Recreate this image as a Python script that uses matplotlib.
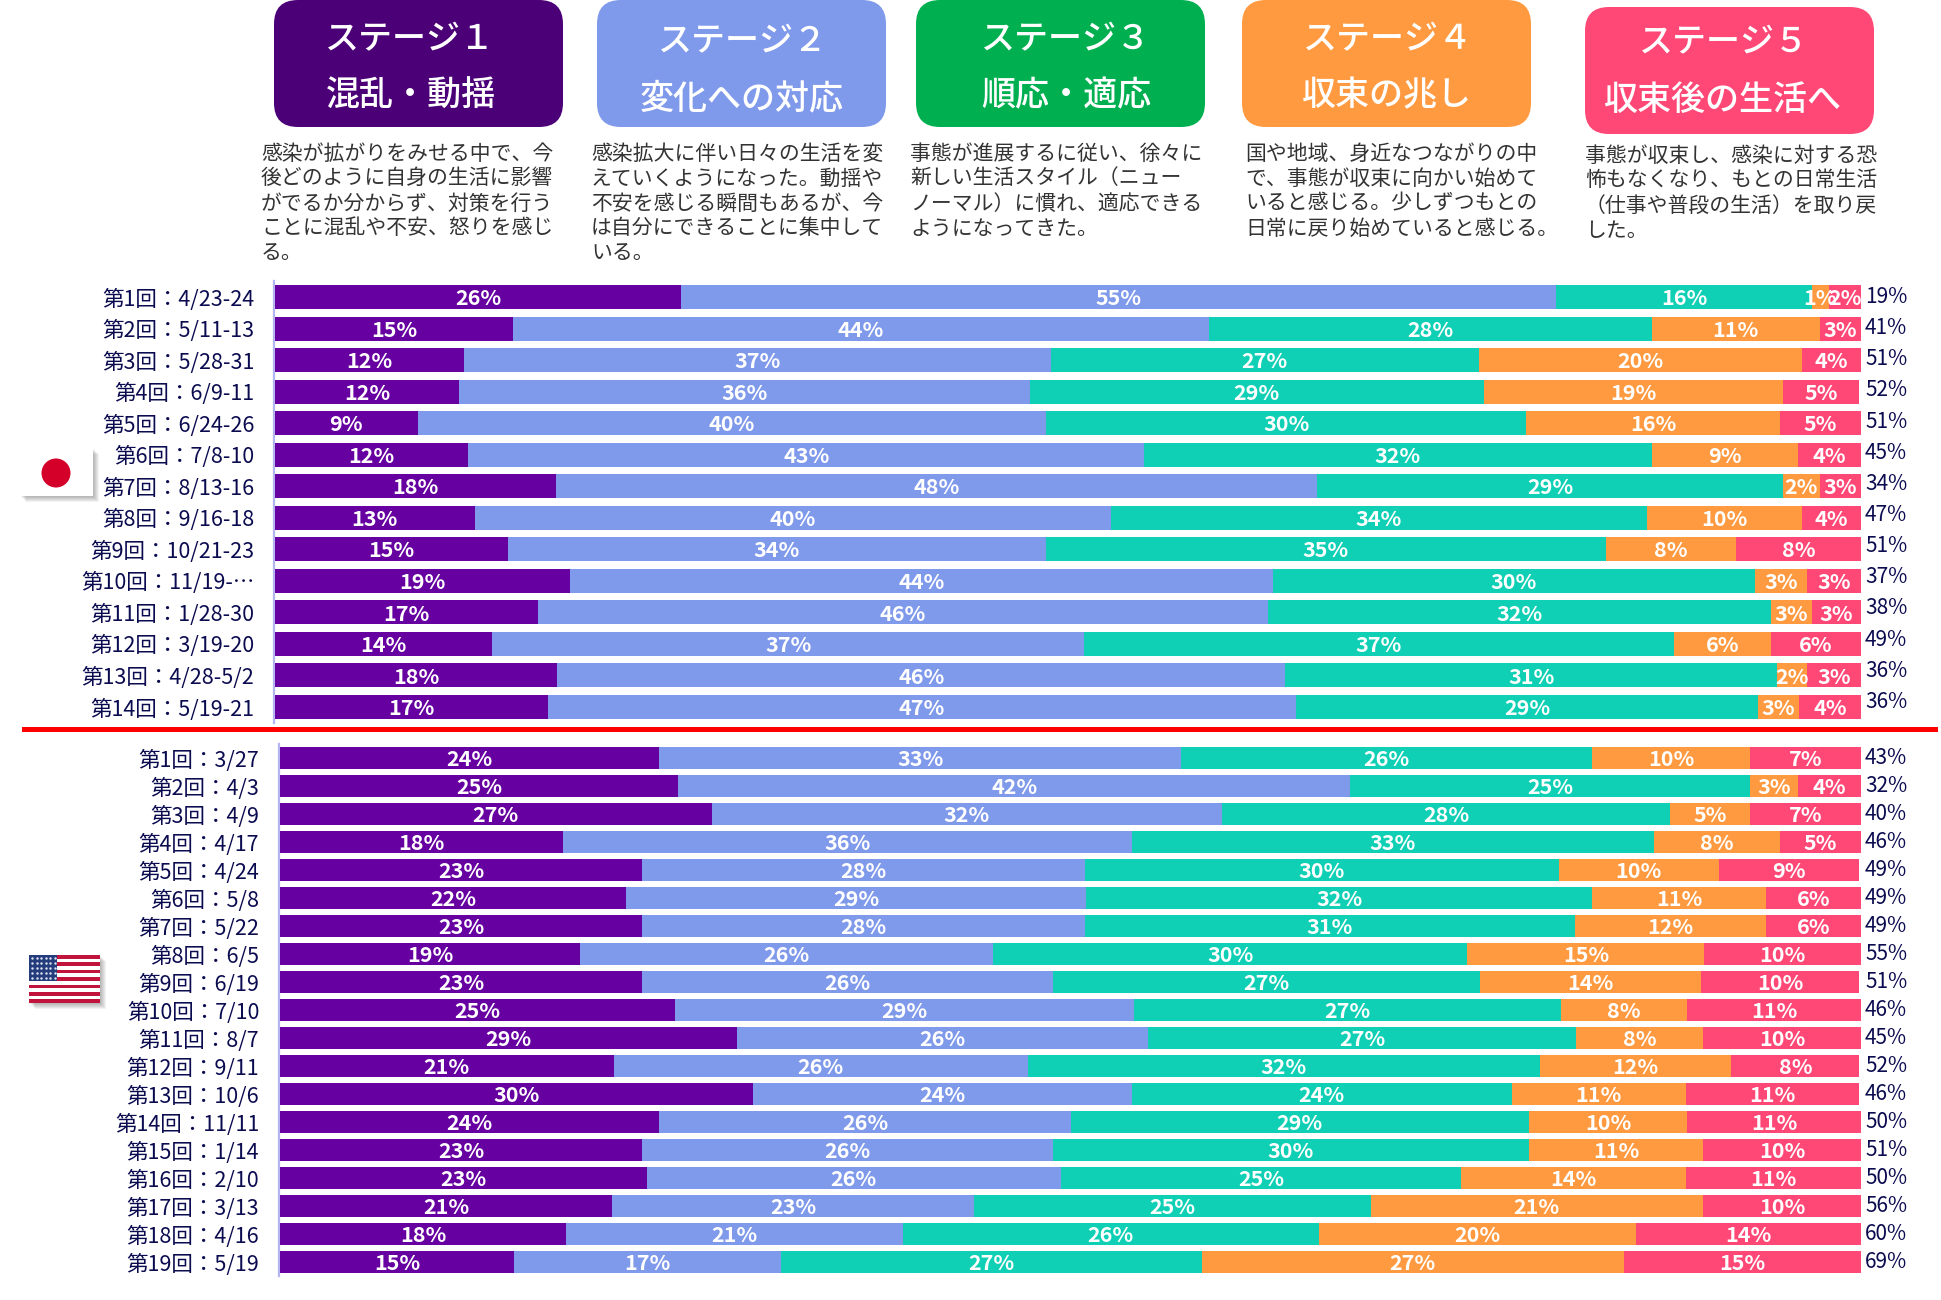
import matplotlib
matplotlib.use('Agg')
import matplotlib.pyplot as plt
from matplotlib.patches import FancyBboxPatch, Rectangle, Circle

plt.rcParams['font.family'] = ['Noto Sans CJK JP', 'DejaVu Sans']

W, H = 1941, 1300

stage_titles = ['ステージ１', 'ステージ２', 'ステージ３', 'ステージ４', 'ステージ５']
stage_names = ['混乱・動揺', '変化への対応', '順応・適応', '収束の兆し', '収束後の生活へ']
stage_desc = [
    ['感染が拡がりをみせる中で、今', '後どのように自身の生活に影響', 'がでるか分からず、対策を行う',
     'ことに混乱や不安、怒りを感じ', 'る。'],
    ['感染拡大に伴い日々の生活を変', 'えていくようになった。動揺や', '不安を感じる瞬間もあるが、今',
     'は自分にできることに集中して', 'いる。'],
    ['事態が進展するに従い、徐々に', '新しい生活スタイル（ニュー', 'ノーマル）に慣れ、適応できる',
     'ようになってきた。'],
    ['国や地域、身近なつながりの中', 'で、事態が収束に向かい始めて', 'いると感じる。少しずつもとの',
     '日常に戻り始めていると感じる。'],
    ['事態が収束し、感染に対する恐', '怖もなくなり、もとの日常生活', '（仕事や普段の生活）を取り戻',
     'した。'],
]
box_colors = ['#4B0078', '#7F99EB', '#00B050', '#FF9A40', '#FF4876']
bar_colors = ['#6600A0', '#7F99EB', '#0FCFB4', '#FF9A40', '#FF4876']

jp_rounds = ['第1回：4/23-24', '第2回：5/11-13', '第3回：5/28-31', '第4回：6/9-11', '第5回：6/24-26',
             '第6回：7/8-10', '第7回：8/13-16', '第8回：9/16-18', '第9回：10/21-23', '第10回：11/19-…',
             '第11回：1/28-30', '第12回：3/19-20', '第13回：4/28-5/2', '第14回：5/19-21']
jp_s1 = [25.6, 15.0, 11.9, 11.6, 9.0, 12.2, 17.7, 12.6, 14.7, 18.6, 16.6, 13.7, 17.8, 17.2]
jp_s2 = [55.2, 43.9, 37.0, 36.0, 39.6, 42.6, 48.0, 40.1, 33.9, 44.3, 46.0, 37.3, 45.9, 47.2]
jp_s3 = [16.1, 27.9, 27.0, 28.6, 30.3, 32.0, 29.4, 33.8, 35.3, 30.4, 31.7, 37.2, 31.0, 29.1]
jp_s4 = [1.1, 10.6, 20.4, 18.9, 16.0, 9.2, 2.3, 9.8, 8.2, 3.3, 2.6, 6.1, 1.9, 2.6]
jp_s5 = [2.0, 2.6, 3.7, 4.8, 5.1, 4.0, 2.6, 3.7, 7.9, 3.4, 3.1, 5.8, 3.4, 3.9]
jp_total = [19, 41, 51, 52, 51, 45, 34, 47, 51, 37, 38, 49, 36, 36]

us_rounds = ['第1回：3/27', '第2回：4/3', '第3回：4/9', '第4回：4/17', '第5回：4/24', '第6回：5/8',
             '第7回：5/22', '第8回：6/5', '第9回：6/19', '第10回：7/10', '第11回：8/7', '第12回：9/11',
             '第13回：10/6', '第14回：11/11', '第15回：1/14', '第16回：2/10', '第17回：3/13',
             '第18回：4/16', '第19回：5/19']
us_s1 = [24.0, 25.2, 27.3, 17.9, 22.9, 21.9, 22.9, 19.0, 22.9, 25.0, 28.9, 21.1, 29.9, 24.0, 22.9, 23.2, 21.0, 18.1, 14.8]
us_s2 = [33.0, 42.5, 32.3, 36.0, 28.0, 29.1, 28.0, 26.1, 26.0, 29.0, 26.0, 26.2, 24.0, 26.0, 26.0, 26.2, 22.9, 21.3, 16.9]
us_s3 = [26.0, 25.3, 28.3, 33.0, 30.0, 32.0, 31.0, 30.0, 27.0, 27.0, 27.1, 32.4, 24.0, 29.0, 30.1, 25.3, 25.1, 26.3, 26.6]
us_s4 = [10.0, 3.0, 5.1, 8.0, 10.1, 11.0, 12.1, 15.0, 14.0, 8.0, 8.0, 12.1, 11.0, 10.0, 11.0, 14.2, 21.0, 20.1, 26.7]
us_s5 = [7.0, 4.0, 7.0, 5.1, 8.9, 6.0, 6.0, 10.0, 10.0, 11.0, 10.0, 8.1, 11.0, 11.0, 10.0, 11.1, 10.0, 14.2, 15.0]
us_total = [43, 32, 40, 46, 49, 49, 49, 55, 51, 46, 45, 52, 46, 50, 51, 50, 56, 60, 69]


def add_axes_px(fig, left, top, right, bottom):
    return fig.add_axes([left / W, 1 - bottom / H, (right - left) / W, (bottom - top) / H])


def draw_bars(ax, rounds, series, bar_h):
    n = len(rounds)
    lefts = [0.0] * n
    ys = list(range(n))
    for vals, col in zip(series, bar_colors):
        bars = ax.barh(ys, vals, left=lefts, height=bar_h, color=col, linewidth=0, zorder=3)
        labs = ax.bar_label(bars, labels=[f'{v:.0f}%' for v in vals], label_type='center', color='white',
                            fontsize=15.5, fontweight='bold', zorder=4)
        for t in labs:
            t.xyann = (0, -1.2)
        lefts = [a + b for a, b in zip(lefts, vals)]
    ax.set_xlim(0, 100)
    ax.set_ylim(n - 0.5, -0.5)
    ax.set_yticks(ys)
    ax.set_yticklabels(rounds)
    ax.tick_params(axis='y', length=0, pad=14, labelsize=15.5, labelcolor='#0B0B50')
    ax.xaxis.set_visible(False)
    for s in ['top', 'right', 'bottom']:
        ax.spines[s].set_visible(False)
    ax.spines['left'].set_color('#B4B4F0')
    ax.spines['left'].set_linewidth(1.6)
    ax.spines['left'].set_position(('outward', 1))
    ax.patch.set_alpha(0)


fig = plt.figure(figsize=(W / 100, H / 100), dpi=100, facecolor='white')

# pixel coordinate layer for the header, flags and divider
bg = fig.add_axes([0, 0, 1, 1])
bg.set_xlim(0, W)
bg.set_ylim(H, 0)
bg.axis('off')

box_x = [(274, 563), (597, 886), (916, 1205), (1242, 1531), (1585, 1874)]
box_y = [(0, 127), (0, 127), (0, 127), (0, 127), (7, 134)]
title_pos = [(407, 38), (740, 40), (1063, 38), (1385, 38), (1721, 41)]
name_pos = [(411, 94), (742, 97), (1066, 94), (1387, 94), (1723, 98)]
desc_pos = [(261, 152), (591, 152), (910, 152), (1245, 152), (1585, 154)]
for i in range(5):
    x0, x1 = box_x[i]
    y0, y1 = box_y[i]
    r = 24
    bg.add_patch(FancyBboxPatch((x0 + r, y0 + r), x1 - x0 - 2 * r, y1 - y0 - 2 * r,
                                boxstyle=f'round,pad={r},rounding_size={r}',
                                fc=box_colors[i], ec='none'))
    bg.text(title_pos[i][0] + 3, title_pos[i][1] + 2, stage_titles[i], color='white', fontsize=24.5,
            fontweight='medium', ha='center', va='center')
    bg.text(name_pos[i][0], name_pos[i][1] + 2, stage_names[i], color='white', fontsize=24.5,
            fontweight='medium', ha='center', va='center')
    for j, line in enumerate(stage_desc[i]):
        bg.text(desc_pos[i][0], desc_pos[i][1] + 1.5 + 25 * j, line, color='#333333', fontsize=15,
                ha='left', va='center')

bg.add_patch(Rectangle((22, 726.5), 1916, 5.5, fc='#FF0000', ec='none'))

# Japan flag
for k in range(1, 7):
    bg.add_patch(Rectangle((20 + k, 448 + k), 73, 48, fc='#000000', alpha=0.05, ec='none'))
bg.add_patch(Rectangle((20, 448), 73, 48, fc='white', ec='none'))
bg.add_patch(Circle((56, 473), 14.5, fc='#D4002A', ec='none'))

# US flag
fx0, fx1, fy0, fy1 = 29, 100, 955, 1003
for k in range(1, 7):
    bg.add_patch(Rectangle((fx0 + k, fy0 + k), fx1 - fx0, fy1 - fy0, fc='#000000', alpha=0.05, ec='none'))
bg.add_patch(Rectangle((fx0, fy0), fx1 - fx0, fy1 - fy0, fc='white', ec='none'))
stripe = (fy1 - fy0) / 13
for k in range(0, 13, 2):
    bg.add_patch(Rectangle((fx0, fy0 + k * stripe), fx1 - fx0, stripe, fc='#C0143C', ec='none'))
bg.add_patch(Rectangle((fx0, fy0), 28, 7 * stripe, fc='#243C7C', ec='none'))
for row in range(5):
    for col in range(6):
        bg.plot(fx0 + 3 + col * 4.5, fy0 + 3 + row * 5, '.', color='#DDE3F0', ms=1.5)

ax_jp = add_axes_px(fig, 275, 281.2, 1861, 722.8)
draw_bars(ax_jp, jp_rounds, [jp_s1, jp_s2, jp_s3, jp_s4, jp_s5], 0.76)
ax_us = add_axes_px(fig, 280, 744, 1861, 1276)
draw_bars(ax_us, us_rounds, [us_s1, us_s2, us_s3, us_s4, us_s5], 0.79)

for i, v in enumerate(jp_total):
    bg.text(1865, 297 + 31.15 * i, f'{v}%', color='#0B0B50', fontsize=15, ha='left', va='center')
for i, v in enumerate(us_total):
    bg.text(1865, 757.5 + 28 * i, f'{v}%', color='#0B0B50', fontsize=15, ha='left', va='center')

fig.savefig('out.png', dpi=100)
